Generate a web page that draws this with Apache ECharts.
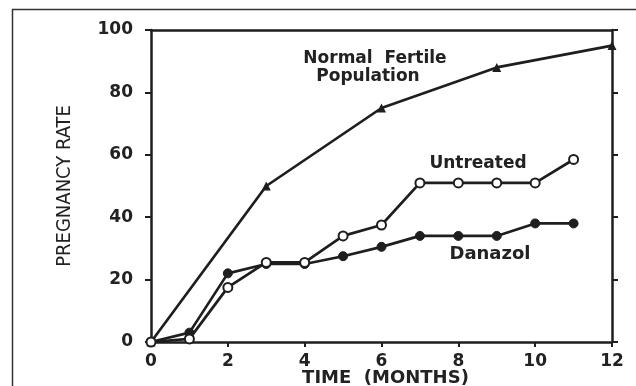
<!DOCTYPE html>
<html>
<head>
<meta charset="utf-8">
<script src="https://cdn.jsdelivr.net/npm/echarts@6/dist/echarts.min.js"></script>
<style>
html,body{margin:0;padding:0;background:#fff;}
#c{width:636px;height:386px;}
</style>
</head>
<body>
<div id="c"></div>
<script>
var months = [0, 1, 2, 3, 4, 5, 6, 7, 8, 9, 10, 11, 12];
var normalX = [0, 3, 6, 9, 12];
var normalY = [0, 50, 75, 88, 95];
var untreatedX = [0, 1, 2, 3, 4, 5, 6, 7, 8, 9, 10, 11];
var untreatedY = [0, 1, 17.5, 25.5, 25.5, 34, 37.5, 51, 51, 51, 51, 58.5];
var danazolX = [0, 1, 2, 3, 4, 5, 6, 7, 8, 9, 10, 11];
var danazolY = [0, 3, 22, 25, 25, 27.5, 30.5, 34, 34, 34, 38, 38];
var xTicks = [0, 2, 4, 6, 8, 10, 12];
var yTicks = [0, 20, 40, 60, 80, 100];

function pairs(xs, ys) { return xs.map(function (x, i) { return [x, ys[i]]; }); }

var ink = '#1e1e1e';
var boldFont = '"DejaVu Sans", "Liberation Sans", sans-serif';
var chart = echarts.init(document.getElementById('c'));
chart.setOption({
  backgroundColor: '#fff',
  animation: false,
  grid: { left: 151, right: 24, top: 30, bottom: 44, containLabel: false, outerBoundsMode: 'none' },
  xAxis: [
    {
      type: 'value', min: 0, max: 12, interval: 2, position: 'bottom',
      axisLine: { show: true, onZero: false, lineStyle: { color: ink, width: 2.5 } },
      axisTick: { show: true, length: 5, lineStyle: { color: ink, width: 2 } },
      axisLabel: { color: '#222', fontFamily: boldFont, fontWeight: 'bold', fontSize: 17, margin: 11,
        formatter: function (v) { return xTicks.indexOf(v) >= 0 ? String(v) : ''; } },
      splitLine: { show: false },
      name: 'TIME  (MONTHS)', nameLocation: 'middle', nameGap: 27, nameMoveOverlap: false,
      nameTextStyle: { color: '#222', fontFamily: boldFont, fontWeight: 'bold', fontSize: 18, padding: [0, 0, 0, 8] }
    },
    {
      type: 'value', min: 0, max: 12, interval: 2, position: 'top',
      axisLine: { show: true, onZero: false, lineStyle: { color: ink, width: 2.5 } },
      axisTick: { show: false }, axisLabel: { show: false }, splitLine: { show: false }
    }
  ],
  yAxis: [
    {
      type: 'value', min: 0, max: 100, interval: 20, position: 'left',
      axisLine: { show: true, onZero: false, lineStyle: { color: ink, width: 2.5 } },
      axisTick: { show: true, length: 6, lineStyle: { color: ink, width: 2 } },
      axisLabel: { color: '#222', fontFamily: boldFont, fontWeight: 'bold', fontSize: 17, margin: 18,
        formatter: function (v) { return yTicks.indexOf(v) >= 0 ? String(v) : ''; } },
      splitLine: { show: false },
      name: 'PREGNANCY RATE', nameLocation: 'middle', nameGap: 76, nameRotate: 90, nameMoveOverlap: false,
      nameTextStyle: { color: '#222', fontFamily: '"DejaVu Sans Condensed", "Roboto Condensed", Roboto, sans-serif', fontSize: 20 }
    },
    {
      type: 'value', min: 0, max: 100, interval: 20, position: 'right',
      axisLine: { show: true, onZero: false, lineStyle: { color: ink, width: 2.5 } },
      axisTick: { show: true, length: 6, lineStyle: { color: ink, width: 2 } },
      axisLabel: { show: false }, splitLine: { show: false }
    }
  ],
  graphic: [
    { type: 'rect', shape: { x: 12.5, y: 9.5, width: 640, height: 400 }, style: { fill: 'none', stroke: '#333', lineWidth: 1.5 }, z: 0 },
    { type: 'text', x: 375, y: 59, style: { text: 'Normal  Fertile', fill: '#222', font: 'bold 17px "DejaVu Sans"', textAlign: 'center', textVerticalAlign: 'middle' } },
    { type: 'text', x: 368, y: 77, style: { text: 'Population', fill: '#222', font: 'bold 17px "DejaVu Sans"', textAlign: 'center', textVerticalAlign: 'middle' } },
    { type: 'text', x: 478, y: 164, style: { text: 'Untreated', fill: '#222', font: 'bold 17px "DejaVu Sans"', textAlign: 'center', textVerticalAlign: 'middle' } },
    { type: 'text', x: 490, y: 254, style: { text: 'Danazol', fill: '#222', font: 'bold 18px "DejaVu Sans"', textAlign: 'center', textVerticalAlign: 'middle' } }
  ],
  series: [
    {
      name: 'Normal Fertile Population', type: 'line', data: pairs(normalX, normalY),
      lineStyle: { color: ink, width: 2.7 }, itemStyle: { color: ink },
      symbol: 'triangle', symbolSize: 9, showAllSymbol: true, z: 3
    },
    {
      name: 'Danazol', type: 'line', data: pairs(danazolX, danazolY),
      lineStyle: { color: ink, width: 2.7 }, itemStyle: { color: ink, borderColor: ink, borderWidth: 1 },
      symbol: 'circle', symbolSize: 9, showAllSymbol: true, z: 3
    },
    {
      name: 'Untreated', type: 'line', data: pairs(untreatedX, untreatedY),
      lineStyle: { color: ink, width: 2.7 }, itemStyle: { color: '#fff', borderColor: ink, borderWidth: 2 },
      symbol: 'circle', symbolSize: 9, showAllSymbol: true, z: 4
    }
  ]
});
</script>
</body>
</html>
